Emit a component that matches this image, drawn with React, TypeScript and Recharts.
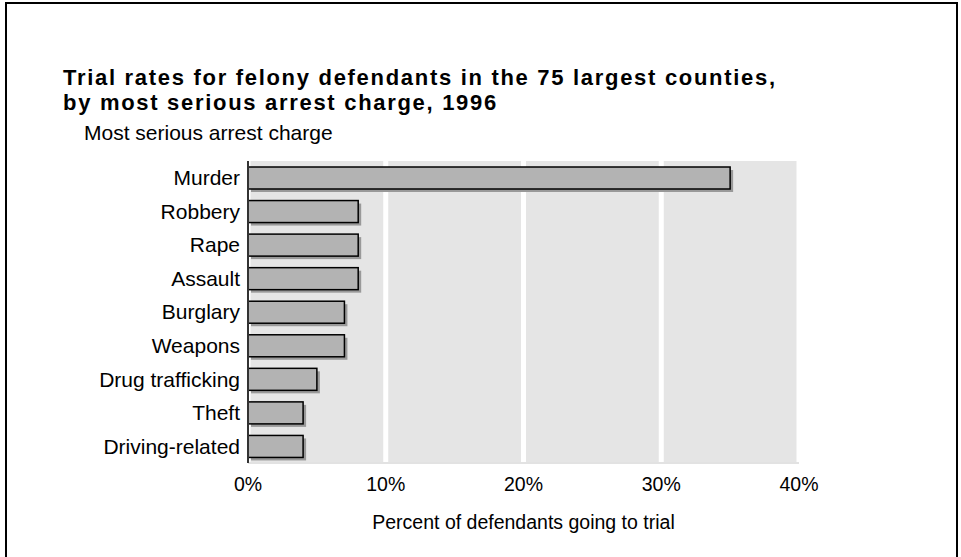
import { BarChart, Bar, XAxis, YAxis, CartesianGrid } from 'recharts';

const charges = [
    'Murder',
    'Robbery',
    'Rape',
    'Assault',
    'Burglary',
    'Weapons',
    'Drug trafficking',
    'Theft',
    'Driving-related',
];
const trialRates = [35, 8, 8, 8, 7, 7, 5, 4, 4];
const xTicks = [0, 10, 20, 30, 40];

const data = charges.map((charge, i) => ({ charge, rate: trialRates[i] }));

const font = '"Liberation Sans", Arial, Helvetica, sans-serif';

// bar with a drop shadow offset down-right
const ShadowBar = (props: any) => {
    const { x, y, width, height } = props;
    if (width == null || height == null) return null;
    return (
        <g>
            <rect x={x + 3} y={y + 3} width={width} height={height} fill="#999999" />
            <rect x={x} y={y} width={width} height={height} fill="#b3b3b3" stroke="#000" strokeWidth={1.5} />
        </g>
    );
};

export default function App() {
    return (
        <div style={{ position: 'absolute', left: 0, top: 0, width: 961, height: 557, background: '#fff', fontFamily: font, overflow: 'hidden' }}>
            <div style={{ position: 'absolute', left: 5, top: 2, width: 949, height: 600, border: '2px solid #000' }} />
            <div style={{ position: 'absolute', left: 63, top: 65, fontSize: 22, fontWeight: 'bold', lineHeight: '25px', letterSpacing: '1.7px', color: '#000', whiteSpace: 'nowrap' }}>
                Trial rates for felony defendants in the 75 largest counties,
                <br />
                by most serious arrest charge, 1996
            </div>
            <div style={{ position: 'absolute', left: 84, top: 121, fontSize: 21, lineHeight: '24px', color: '#000', whiteSpace: 'nowrap' }}>
                Most serious arrest charge
            </div>
            <div style={{ position: 'absolute', left: 0, top: 0 }}>
                <BarChart
                    width={961}
                    height={557}
                    data={data}
                    layout="vertical"
                    margin={{ top: 161, right: 162, bottom: 0, left: 0 }}
                    barCategoryGap={6}
                >
                    <CartesianGrid horizontal={false} fill="#e5e5e5" fillOpacity={1} stroke="#ffffff" strokeWidth={5} />
                    <XAxis
                        type="number"
                        domain={[0, 40]}
                        ticks={xTicks}
                        tickFormatter={(v) => `${v}%`}
                        axisLine={{ stroke: '#e2e2e2', strokeWidth: 2 }}
                        tickLine={false}
                        tickMargin={8}
                        tick={{ fill: '#000', fontSize: 19.5, fontFamily: font }}
                        label={{ value: 'Percent of defendants going to trial', position: 'insideBottom', offset: 28, fill: '#000', fontSize: 19.5, fontFamily: font }}
                        height={94}
                    />
                    <YAxis
                        type="category"
                        dataKey="charge"
                        width={248}
                        axisLine={{ stroke: '#333', strokeWidth: 2 }}
                        tickLine={false}
                        tickMargin={2}
                        tick={{ fill: '#000', fontSize: 21, fontFamily: font }}
                        interval={0}
                    />
                    <Bar dataKey="rate" shape={ShadowBar} isAnimationActive={false} />
                </BarChart>
            </div>
        </div>
    );
}
